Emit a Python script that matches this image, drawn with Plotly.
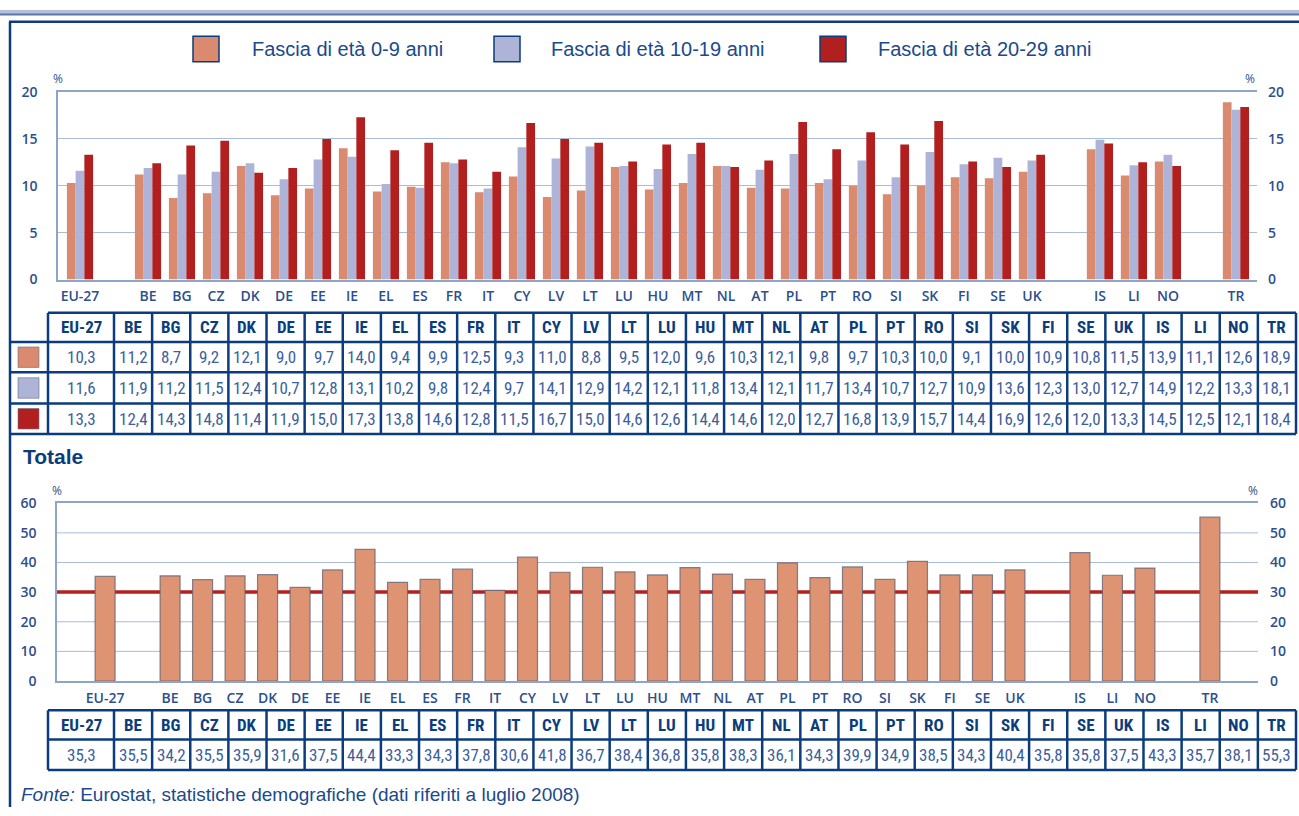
import plotly.graph_objects as go

# ---------------- data ----------------
countries = ["EU-27", "BE", "BG", "CZ", "DK", "DE", "EE", "IE", "EL", "ES", "FR", "IT",
             "CY", "LV", "LT", "LU", "HU", "MT", "NL", "AT", "PL", "PT", "RO", "SI",
             "SK", "FI", "SE", "UK", "IS", "LI", "NO", "TR"]

age_0_9 = [10.3, 11.2, 8.7, 9.2, 12.1, 9.0, 9.7, 14.0, 9.4, 9.9, 12.5, 9.3, 11.0, 8.8, 9.5, 12.0,
           9.6, 10.3, 12.1, 9.8, 9.7, 10.3, 10.0, 9.1, 10.0, 10.9, 10.8, 11.5, 13.9, 11.1, 12.6, 18.9]
age_10_19 = [11.6, 11.9, 11.2, 11.5, 12.4, 10.7, 12.8, 13.1, 10.2, 9.8, 12.4, 9.7, 14.1, 12.9, 14.2, 12.1,
             11.8, 13.4, 12.1, 11.7, 13.4, 10.7, 12.7, 10.9, 13.6, 12.3, 13.0, 12.7, 14.9, 12.2, 13.3, 18.1]
age_20_29 = [13.3, 12.4, 14.3, 14.8, 11.4, 11.9, 15.0, 17.3, 13.8, 14.6, 12.8, 11.5, 16.7, 15.0, 14.6, 12.6,
             14.4, 14.6, 12.0, 12.7, 16.8, 13.9, 15.7, 14.4, 16.9, 12.6, 12.0, 13.3, 14.5, 12.5, 12.1, 18.4]
totale = [35.3, 35.5, 34.2, 35.5, 35.9, 31.6, 37.5, 44.4, 33.3, 34.3, 37.8, 30.6, 41.8, 36.7, 38.4, 36.8,
          35.8, 38.3, 36.1, 34.3, 39.9, 34.9, 38.5, 34.3, 40.4, 35.8, 35.8, 37.5, 43.3, 35.7, 38.1, 55.3]

series_names = ["Fascia di età 0-9 anni", "Fascia di età 10-19 anni", "Fascia di età 20-29 anni"]
reference_level = 30
top_ticks = [0, 5, 10, 15, 20]
bottom_ticks = [0, 10, 20, 30, 40, 50, 60]
title_totale = "Totale"
source_text = "<i>Fonte:</i> Eurostat, statistiche demografiche (dati riferiti a luglio 2008)"

# ---------------- style ----------------
W, H = 1299, 816
NAVY = "#0B3D7C"
TICK_C = "#2E4F8E"
VAL_C = "#3D5F9E"
GRID_C = "#A9BCD9"
FRAME_C = "#8EA4C8"
series_colors = ["#D98A6F", "#AEB4D8", "#B21F1F"]
total_color = "#DE9373"
line_red = "#B5211E"
NARROW = "Liberation Sans Narrow, Arial Narrow, Roboto Condensed, Roboto, sans-serif"


def px(x):
    return x / W


def py(y):
    return 1 - y / H


# axis order with empty slots between groups
axis_order = countries[:1] + [" "] + countries[1:28] + ["  "] + countries[28:31] + ["   "] + countries[31:]

fig = go.Figure()
for name, vals, col in zip(series_names, [age_0_9, age_10_19, age_20_29], series_colors):
    fig.add_trace(go.Bar(x=countries, y=vals, name=name, marker=dict(color=col, line=dict(width=0)),
                         xaxis="x", yaxis="y", showlegend=False))
fig.add_trace(go.Scatter(x=countries, y=age_20_29, xaxis="x", yaxis="y3", mode="markers",
                         marker=dict(opacity=0), showlegend=False, hoverinfo="skip"))
fig.add_trace(go.Bar(x=countries, y=totale, name=title_totale, width=0.615,
                     marker=dict(color=total_color, line=dict(color="rgba(95,95,115,0.75)", width=1.2)),
                     xaxis="x2", yaxis="y2", showlegend=False))
fig.add_trace(go.Scatter(x=countries, y=totale, xaxis="x2", yaxis="y4", mode="markers",
                         marker=dict(opacity=0), showlegend=False, hoverinfo="skip"))

tickfont = dict(family="Open Sans, sans-serif", size=14, color=TICK_C, weight=600)

xcommon = dict(type="category", categoryorder="array", categoryarray=axis_order,
               showline=True, linecolor=FRAME_C, linewidth=1.5, mirror=True, showgrid=False,
               ticks="", tickfont=tickfont, zeroline=False, fixedrange=True)
ycommon = dict(showgrid=True, gridcolor=GRID_C, gridwidth=1, showline=True, linecolor=FRAME_C,
               linewidth=1.5, ticks="", tickfont=tickfont, zeroline=False, fixedrange=True)

fig.update_layout(
    width=W, height=H, margin=dict(l=0, r=0, t=0, b=0),
    paper_bgcolor="white", plot_bgcolor="white",
    barmode="group", bargap=0.23, bargroupgap=0,
    font=dict(family="Liberation Sans, Arial, sans-serif", color=NAVY),
    xaxis=dict(xcommon, domain=[px(58), px(1257)], anchor="y", range=[-0.647, 34.62],
               ticklabelstandoff=3),
    yaxis=dict(ycommon, domain=[py(276), py(84)], anchor="x", range=[0, 20], tickvals=top_ticks,
               ticklabelstandoff=16),
    yaxis3=dict(ycommon, overlaying="y", side="right", anchor="x", range=[0, 20], tickvals=top_ticks,
                showgrid=False, showline=False, ticklabelstandoff=10),
    xaxis2=dict(xcommon, domain=[px(57), px(1258)], anchor="y2", range=[-1.48, 35.48],
                ticklabelstandoff=3),
    yaxis2=dict(ycommon, domain=[py(687), py(505)], anchor="x2", range=[0, 60], tickvals=bottom_ticks,
                showgrid=False, ticklabelstandoff=16),
    yaxis4=dict(ycommon, overlaying="y2", side="right", anchor="x2", range=[0, 60], tickvals=bottom_ticks,
                showgrid=False, showline=False, ticklabelstandoff=11),
)

shapes = []
annotations = []

# outer frame
shapes.append(dict(type="rect", xref="paper", yref="paper", x0=0, x1=1, y0=py(4), y1=py(0),
                   fillcolor="#B4BFDC", line=dict(width=0)))
shapes.append(dict(type="line", xref="paper", yref="paper", x0=0, x1=1, y0=py(4.5), y1=py(4.5),
                   line=dict(color="#5C77A8", width=2)))
shapes.append(dict(type="line", xref="paper", yref="paper", x0=px(9), x1=1, y0=py(12), y1=py(12),
                   line=dict(color=NAVY, width=2.5)))
shapes.append(dict(type="line", xref="paper", yref="paper", x0=px(10), x1=px(10), y0=py(12), y1=0,
                   line=dict(color=NAVY, width=2.5)))

# gridlines of the totals chart (below the reference line)
for t in bottom_ticks[1:-1]:
    shapes.append(dict(type="line", xref="x2 domain", yref="y2", x0=0, x1=1, y0=t, y1=t,
                       line=dict(color=GRID_C, width=1), layer="below"))
# reference line on totals chart
shapes.append(dict(type="line", xref="x2 domain", yref="y2", x0=0, x1=1, y0=reference_level,
                   y1=reference_level, line=dict(color=line_red, width=3.5), layer="below"))

# legend
leg_x = [193, 494, 820]
leg_tx = [250, 549, 876]
for name, col, sx, tx in zip(series_names, series_colors, leg_x, leg_tx):
    shapes.append(dict(type="rect", xref="paper", yref="paper", x0=px(sx), x1=px(sx + 26),
                       y0=py(53), y1=py(27), fillcolor=col, line=dict(color=NAVY, width=1.5)))
    annotations.append(dict(xref="paper", yref="paper", x=px(tx), y=py(40), text=name, showarrow=False,
                            xanchor="left", yanchor="middle",
                            font=dict(family="Liberation Sans, Arial", size=20, color="#1A4A8C")))

# "%" labels
for (x, y) in [(58, 70), (1250, 70), (57, 492), (1253, 492)]:
    annotations.append(dict(xref="paper", yref="paper", x=px(x), y=py(y), text="%", showarrow=False,
                            xanchor="center", yanchor="middle",
                            font=dict(family="Open Sans", size=12, color=TICK_C)))

# title and source
annotations.append(dict(xref="paper", yref="paper", x=px(21), y=py(457), text="<b>%s</b>" % title_totale,
                        showarrow=False, xanchor="left", yanchor="middle",
                        font=dict(family="Liberation Sans, Arial", size=21, color=NAVY)))
annotations.append(dict(xref="paper", yref="paper", x=px(19), y=py(803), text=source_text,
                        showarrow=False, xanchor="left", yanchor="middle",
                        font=dict(family="Liberation Sans, Arial", size=19, color="#1A4A8C")))

# ---------------- tables ----------------
n_cols = len(countries)
first_w_edge = (48, 114)
right_edge = 1296
step = (right_edge - first_w_edge[1]) / (n_cols - 1)
edges = [first_w_edge[0], first_w_edge[1]] + [first_w_edge[1] + step * k for k in range(1, n_cols)]
centers = [(edges[i] + edges[i + 1]) / 2 for i in range(n_cols)]
TL = 2.5


def hline(y, x0, x1):
    shapes.append(dict(type="line", xref="paper", yref="paper", x0=px(x0), x1=px(x1), y0=py(y), y1=py(y),
                       line=dict(color=NAVY, width=TL)))


def vline(x, y0, y1):
    shapes.append(dict(type="line", xref="paper", yref="paper", x0=px(x), x1=px(x), y0=py(y0), y1=py(y1),
                       line=dict(color=NAVY, width=TL)))


def fmt(v):
    return ("%.1f" % v).replace(".", ",")


def cell_text(x, y, text, bold=False):
    annotations.append(dict(xref="paper", yref="paper", x=px(x), y=py(y),
                            text=("<b>%s</b>" % text) if bold else text, showarrow=False,
                            xanchor="center", yanchor="middle",
                            font=dict(family=NARROW, size=17, color=NAVY if bold else VAL_C)))


# top table
top_rows = [310, 340, 371, 403, 434]
hline(top_rows[0], edges[0], right_edge)
for y in top_rows[1:]:
    hline(y, 10, right_edge)
for x in edges:
    vline(x, top_rows[0], top_rows[-1])
for c, name in zip(centers, countries):
    cell_text(c, (top_rows[0] + top_rows[1]) / 2, name, bold=True)
for r, (vals, col) in enumerate(zip([age_0_9, age_10_19, age_20_29], series_colors)):
    yc = (top_rows[r + 1] + top_rows[r + 2]) / 2
    shapes.append(dict(type="rect", xref="paper", yref="paper", x0=px(18), x1=px(39),
                       y0=py(yc + 10.5), y1=py(yc - 10.5), fillcolor=col,
                       line=dict(color="rgba(110,110,130,0.6)", width=1)))
    for c, v in zip(centers, vals):
        cell_text(c, yc, fmt(v))

# bottom table
bot_rows = [717, 747, 778]
for y in bot_rows:
    hline(y, edges[0], right_edge)
for x in edges:
    vline(x, bot_rows[0], bot_rows[-1])
for c, name in zip(centers, countries):
    cell_text(c, (bot_rows[0] + bot_rows[1]) / 2, name, bold=True)
for c, v in zip(centers, totale):
    cell_text(c, (bot_rows[1] + bot_rows[2]) / 2, fmt(v))

fig.update_layout(shapes=shapes, annotations=annotations)

fig.write_html("out.html", config={"displayModeBar": False},
               post_script="document.body.style.margin='0px';document.body.style.overflow='hidden';")
